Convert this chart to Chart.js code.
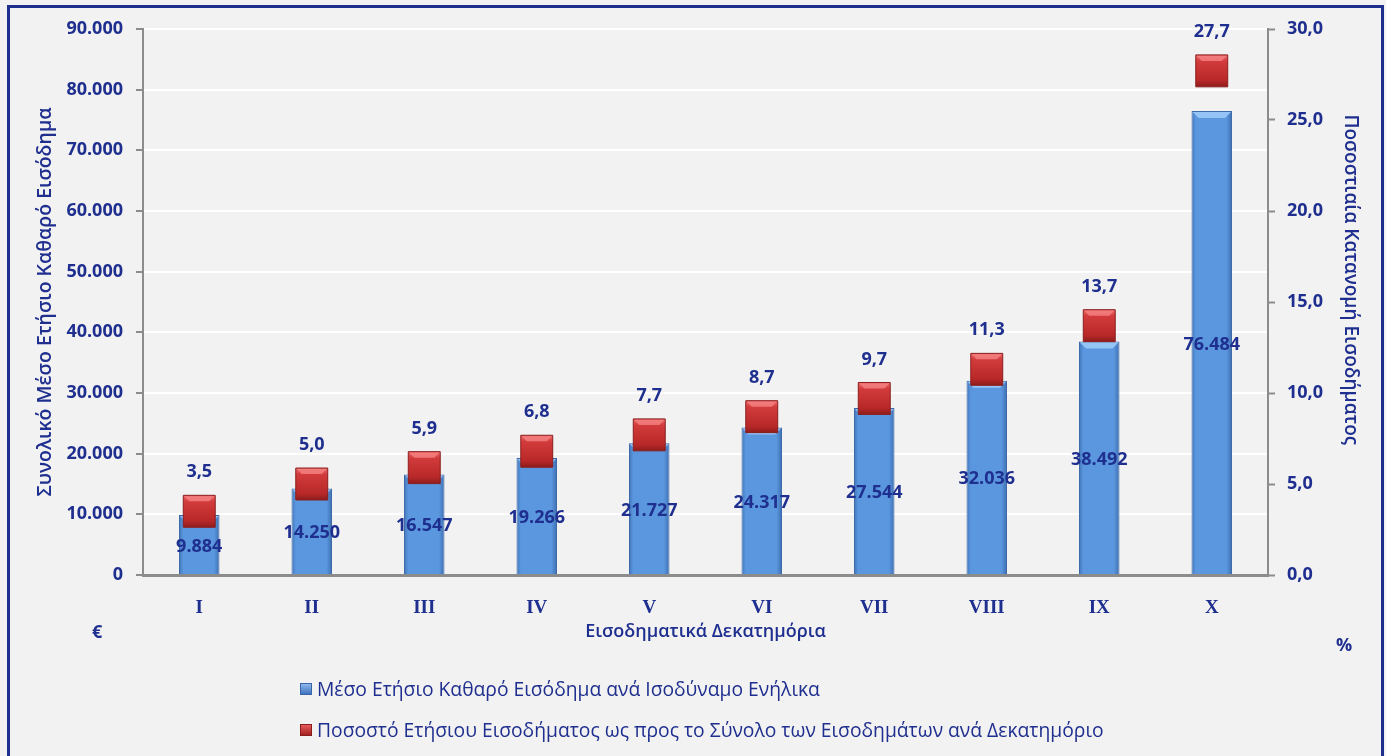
<!DOCTYPE html>
<html lang="el">
<head>
    <meta charset="UTF-8">
    <title>Εισοδηματικά Δεκατημόρια</title>
    <script src="https://cdn.jsdelivr.net/npm/chart.js"></script>
    <style>
        html, body { margin: 0; padding: 0; background: #f2f2f2; overflow: hidden; }
        #frame {
            position: absolute; left: 7px; top: 5px; width: 1371px; height: 770px;
            border: 3px solid #1f2f8f; background: #f2f2f2;
        }
        #wrap { position: absolute; left: 0; top: 0; width: 1386px; height: 756px; }
        .unit {
            position: absolute; color: #1f2f8f; font: bold 18px "Open Sans", sans-serif;
        }
        #legend { position: absolute; left: 300px; top: 677px; color: #1f2f8f;
            font: 19.3px "Open Sans", sans-serif; }
        .item { height: 41px; line-height: 24px; white-space: nowrap; }
        .box { display: inline-block; width: 10px; height: 10px; margin-right: 5px;
            vertical-align: 1px; }
    </style>
</head>
<body>
    <div id="frame"></div>
    <div id="wrap"><canvas id="incomeChart" width="1386" height="756"></canvas></div>
    <div class="unit" style="left:92px; top:619px;">€</div>
    <div class="unit" style="left:1336px; top:632px;">%</div>
    <div id="legend">
        <div class="item"><span class="box" style="background:linear-gradient(#8fb8ec,#3f74c0);border:1px solid #3a64a8"></span>Μέσο Ετήσιο Καθαρό Εισόδημα ανά Ισοδύναμο Ενήλικα</div>
        <div class="item"><span class="box" style="background:linear-gradient(#e85a5a,#a52222);border:1px solid #8a1d1d"></span>Ποσοστό Ετήσιου Εισοδήματος ως προς το Σύνολο των Εισοδημάτων ανά Δεκατημόριο</div>
    </div>

    <script>
        // deciles and values
        var deciles = ['I', 'II', 'III', 'IV', 'V', 'VI', 'VII', 'VIII', 'IX', 'X'];
        var meanIncome = [9884, 14250, 16547, 19266, 21727, 24317, 27544, 32036, 38492, 76484];
        var incomeShare = [3.5, 5.0, 5.9, 6.8, 7.7, 8.7, 9.7, 11.3, 13.7, 27.7];

        var navy = '#1f2f8f';
        var axisGray = '#8c8c8c';
        var numFont = { family: '"Open Sans", sans-serif', size: 18, weight: 'bold' };

        function fmtThousands(v) {
            return String(Math.round(v)).replace(/\B(?=(\d{3})+(?!\d))/g, '.');
        }
        function fmtDecimal(v) {
            return v.toFixed(1).replace('.', ',');
        }

        // bar fill: darker edges, lighter middle
        function barFill(context) {
            var chart = context.chart;
            if (!chart.chartArea || context.type !== 'data') return '#5b9be0';
            var x = chart.scales.x.getPixelForValue(context.dataIndex);
            var g = chart.ctx.createLinearGradient(x - 21, 0, x + 21, 0);
            g.addColorStop(0, '#3d6fb4');
            g.addColorStop(0.12, '#5a97de');
            g.addColorStop(0.85, '#5a97de');
            g.addColorStop(1, '#3a68aa');
            return g;
        }

        // marker fill: lighter top, darker bottom
        function markerFill(context) {
            var chart = context.chart;
            if (!chart.chartArea || context.type !== 'data') return '#c0302f';
            var y = chart.scales.y1.getPixelForValue(incomeShare[context.dataIndex]);
            var g = chart.ctx.createLinearGradient(0, y - 16, 0, y + 16);
            g.addColorStop(0, '#ec6a6a');
            g.addColorStop(0.2, '#d23b3b');
            g.addColorStop(0.8, '#b82828');
            g.addColorStop(1, '#8e1c1c');
            return g;
        }

        function bevel(ctx, left, right, top, depth, color) {
            ctx.fillStyle = color;
            ctx.beginPath();
            ctx.moveTo(left, top);
            ctx.lineTo(right, top);
            ctx.lineTo(right - depth, top + depth);
            ctx.lineTo(left + depth, top + depth);
            ctx.closePath();
            ctx.fill();
        }

        // bevels on the marks, then value labels
        var valueLabels = {
            id: 'valueLabels',
            afterDatasetDraw: function(chart, args) {
                var ctx = chart.ctx;
                ctx.save();
                if (args.index === 0) {
                    args.meta.data.forEach(function(bar) {
                        bevel(ctx, bar.x - bar.width / 2 + 1, bar.x + bar.width / 2 - 1, bar.y + 1, 6, 'rgba(160,205,250,0.85)');
                    });
                } else {
                    args.meta.data.forEach(function(pt) {
                        var h = pt.options.radius * Math.SQRT1_2;
                        bevel(ctx, pt.x - h + 1, pt.x + h - 1, pt.y - h + 1, 5, 'rgba(245,130,130,0.8)');
                    });
                }
                ctx.restore();
            },
            afterDatasetsDraw: function(chart) {
                var ctx = chart.ctx;
                ctx.save();
                ctx.fillStyle = navy;
                ctx.font = 'bold 18px "Open Sans", sans-serif';
                ctx.textAlign = 'center';
                ctx.textBaseline = 'middle';
                chart.getDatasetMeta(0).data.forEach(function(bar, i) {
                    var mid = (bar.y + bar.base) / 2;
                    ctx.fillText(fmtThousands(meanIncome[i]), bar.x, mid + 2);
                });
                chart.getDatasetMeta(1).data.forEach(function(pt, i) {
                    ctx.fillText(fmtDecimal(incomeShare[i]), pt.x, pt.y - 39);
                });
                ctx.restore();
            }
        };

        var ctx = document.getElementById('incomeChart').getContext('2d');

        new Chart(ctx, {
            type: 'bar',
            data: {
                labels: deciles,
                datasets: [{
                    label: 'Μέσο Ετήσιο Καθαρό Εισόδημα ανά Ισοδύναμο Ενήλικα',
                    data: meanIncome,
                    yAxisID: 'y',
                    backgroundColor: barFill,
                    borderColor: '#3f6aa8',
                    borderWidth: 1,
                    categoryPercentage: 1,
                    barPercentage: 0.36,
                    order: 2
                }, {
                    type: 'line',
                    label: 'Ποσοστό Ετήσιου Εισοδήματος ως προς το Σύνολο των Εισοδημάτων ανά Δεκατημόριο',
                    data: incomeShare,
                    yAxisID: 'y1',
                    showLine: false,
                    pointStyle: 'rect',
                    pointRadius: 22.6,
                    pointHoverRadius: 22.6,
                    pointBackgroundColor: markerFill,
                    pointBorderColor: '#8a1d1d',
                    pointBorderWidth: 1,
                    order: 1
                }]
            },
            options: {
                responsive: false,
                animation: false,
                events: [],
                layout: { padding: { left: 20, right: 18, top: 29, bottom: 109 } },
                plugins: {
                    legend: { display: false },
                    tooltip: { enabled: false }
                },
                scales: {
                    x: {
                        grid: { display: false },
                        border: { display: true, color: axisGray, width: 3 },
                        ticks: {
                            color: navy,
                            padding: 14,
                            font: { family: '"Liberation Serif", serif', size: 19, weight: 'bold' }
                        },
                        title: {
                            display: true,
                            text: 'Εισοδηματικά Δεκατημόρια',
                            color: navy,
                            padding: { top: 0, bottom: 4 },
                            font: { family: '"Open Sans", sans-serif', size: 18, weight: '600' }
                        },
                        afterFit: function(scale) { scale.height = 72; }
                    },
                    y: {
                        position: 'left',
                        min: 0,
                        max: 90000,
                        ticks: {
                            stepSize: 10000,
                            color: navy,
                            padding: 13,
                            font: numFont,
                            callback: function(v) { return fmtThousands(v); }
                        },
                        grid: { color: '#ffffff', lineWidth: 2, tickColor: axisGray, tickLength: 7, tickWidth: 2 },
                        border: { display: true, color: axisGray, width: 2 },
                        title: {
                            display: true,
                            text: 'Συνολικό Μέσο Ετήσιο Καθαρό Εισόδημα',
                            color: navy,
                            padding: { top: 14, bottom: 0 },
                            font: { family: '"Open Sans", sans-serif', size: 19.5, weight: '600' }
                        },
                        afterFit: function(scale) { scale.width = 123; }
                    },
                    y1: {
                        position: 'right',
                        min: 0,
                        max: 30,
                        ticks: {
                            stepSize: 5,
                            color: navy,
                            padding: 12,
                            font: numFont,
                            callback: function(v) { return fmtDecimal(v); }
                        },
                        grid: { drawOnChartArea: false, tickColor: axisGray, tickLength: 7, tickWidth: 2 },
                        border: { display: true, color: axisGray, width: 2 },
                        title: {
                            display: true,
                            // trailing spaces lift the title above the axis centre, as in the reference
                            text: 'Ποσοστιαία Κατανομή Εισοδήματος         ',
                            color: navy,
                            padding: { top: 6, bottom: 0 },
                            font: { family: '"Open Sans", sans-serif', size: 19, weight: '600' }
                        },
                        afterFit: function(scale) { scale.width = 100; }
                    }
                }
            },
            plugins: [valueLabels]
        });
    </script>
</body>
</html>
